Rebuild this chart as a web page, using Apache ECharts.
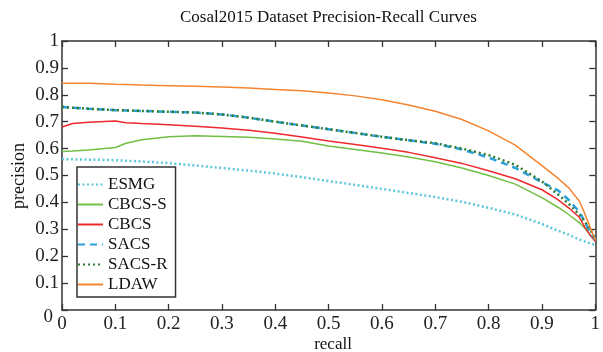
<!DOCTYPE html>
<html>
<head>
<meta charset="utf-8">
<script src="https://cdn.jsdelivr.net/npm/echarts@6/dist/echarts.min.js"></script>
<style>html,body{margin:0;padding:0;background:#fff}#c{width:603px;height:352px}</style>
</head>
<body>
<div id="c"></div>
<script>
const recall = [0, 0.02, 0.05, 0.1, 0.12, 0.15, 0.2, 0.25, 0.3, 0.35, 0.4, 0.45, 0.5, 0.55, 0.6, 0.65, 0.7, 0.75, 0.8, 0.85, 0.9, 0.93, 0.95, 0.97, 0.98, 0.99, 1.0];
const ESMG   = [0.561,0.560,0.559,0.557,0.555,0.552,0.546,0.537,0.528,0.518,0.507,0.494,0.479,0.465,0.450,0.435,0.420,0.402,0.380,0.355,0.320,0.295,0.280,0.262,0.255,0.248,0.242];
const CBCS_S = [0.589,0.591,0.595,0.604,0.620,0.633,0.644,0.648,0.645,0.642,0.636,0.627,0.610,0.597,0.584,0.569,0.551,0.528,0.500,0.468,0.418,0.382,0.355,0.325,0.305,0.280,0.255];
const CBCS   = [0.680,0.693,0.698,0.703,0.696,0.693,0.689,0.683,0.677,0.668,0.657,0.643,0.628,0.615,0.601,0.586,0.566,0.545,0.518,0.488,0.447,0.410,0.380,0.345,0.310,0.280,0.255];
const SACS   = [0.755,0.752,0.748,0.743,0.742,0.740,0.737,0.734,0.727,0.715,0.700,0.686,0.672,0.658,0.644,0.631,0.618,0.597,0.567,0.528,0.475,0.445,0.410,0.365,0.330,0.290,0.262];
const SACS_R = [0.755,0.752,0.748,0.743,0.742,0.740,0.737,0.734,0.727,0.715,0.700,0.686,0.672,0.658,0.644,0.631,0.620,0.600,0.576,0.540,0.478,0.430,0.395,0.355,0.330,0.300,0.265];
const LDAW   = [0.843,0.843,0.843,0.839,0.838,0.836,0.834,0.832,0.829,0.825,0.820,0.815,0.807,0.796,0.782,0.762,0.739,0.708,0.666,0.613,0.537,0.490,0.455,0.405,0.360,0.310,0.260];
const seriesNames = ['ESMG','CBCS-S','CBCS','SACS','SACS-R','LDAW'];
const seriesData = [ESMG, CBCS_S, CBCS, SACS, SACS_R, LDAW];
const seriesColors = ['#5ec8da','#72bf44','#ee2a2f','#2b9fd9','#2e7d32','#f58430'];
const seriesLineTypes = [[2,2.5],'solid','solid',[7,5],[2,3],'solid'];
const seriesWidths = [2.5,1.5,1.5,2.5,2.5,1.5];
const xTickLabels = ['0','0.1','0.2','0.3','0.4','0.5','0.6','0.7','0.8','0.9','1'];
const yTickLabels = ['0','0.1','0.2','0.3','0.4','0.5','0.6','0.7','0.8','0.9','1'];

const FONT = 'Liberation Serif';
const AX = '#333333';
const chart = echarts.init(document.getElementById('c'), null, {renderer:'canvas'});

function axisCommon(pos, showLabel, labels){
  return {
    type:'value', min:0, max:1, interval:0.1, position:pos,
    axisLine:{show:true, onZero:false, lineStyle:{color:AX, width:1.5}},
    axisTick:{show:true, inside:true, length:6, lineStyle:{color:AX, width:1.3}},
    splitLine:{show:false},
    axisLabel:{show:showLabel, color:'#222', fontFamily:FONT, fontSize:19,
      formatter:function(v){ const i = Math.round(v*10); return labels[i]; }}
  };
}

const xBottom = axisCommon('bottom', true, xTickLabels);
xBottom.axisLabel.margin = 5;
const xTop = axisCommon('top', false, xTickLabels);
const yLeft = axisCommon('left', true, yTickLabels);
yLeft.axisLabel.margin = 3;
yLeft.axisLabel.formatter = function(v){ const i = Math.round(v*10); return i===0 ? '{z|'+yTickLabels[0]+'}' : yTickLabels[i]; };
yLeft.axisLabel.rich = {z:{padding:[14,6,0,0], fontSize:19, fontFamily:FONT, color:'#222'}};
const yRight = axisCommon('right', false, yTickLabels);

const series = seriesNames.map((n,i)=>({
  name:n, type:'line', xAxisIndex:0, yAxisIndex:0, symbol:'none', smooth:false,
  data: recall.map((r,j)=>[r, seriesData[i][j]]),
  lineStyle:{color:seriesColors[i], width:seriesWidths[i], type:seriesLineTypes[i]},
  itemStyle:{color:seriesColors[i]},
  animation:false
}));

chart.setOption({
  backgroundColor:'#ffffff',
  animation:false,
  title:{text:'Cosal2015 Dataset Precision-Recall Curves', left:180, top:9, padding:0,
    textStyle:{fontFamily:FONT, fontSize:17, fontWeight:'normal', color:'#111'}},
  grid:{left:62, right:1, top:41, bottom:42},
  xAxis:[xBottom, xTop],
  yAxis:[yLeft, yRight],
  legend:{orient:'vertical', left:77, top:167, padding:[9,8,4,0], itemGap:3,
    itemWidth:25, itemHeight:10, backgroundColor:'#fff', borderColor:AX, borderWidth:1.5,
    itemStyle:{opacity:0},
    data:seriesNames, textStyle:{fontFamily:FONT, fontSize:17, color:'#111'}},
  graphic:[
    {type:'text', x:333, y:345, style:{text:'recall', fontFamily:FONT, fontSize:17, fill:'#111', align:'center', verticalAlign:'middle'}},
    {type:'text', x:19, y:176, rotation:Math.PI/2, style:{text:'precision', fontFamily:FONT, fontSize:18, fill:'#111', align:'center', verticalAlign:'middle'}}
  ],
  series: series
});
</script>
</body>
</html>
